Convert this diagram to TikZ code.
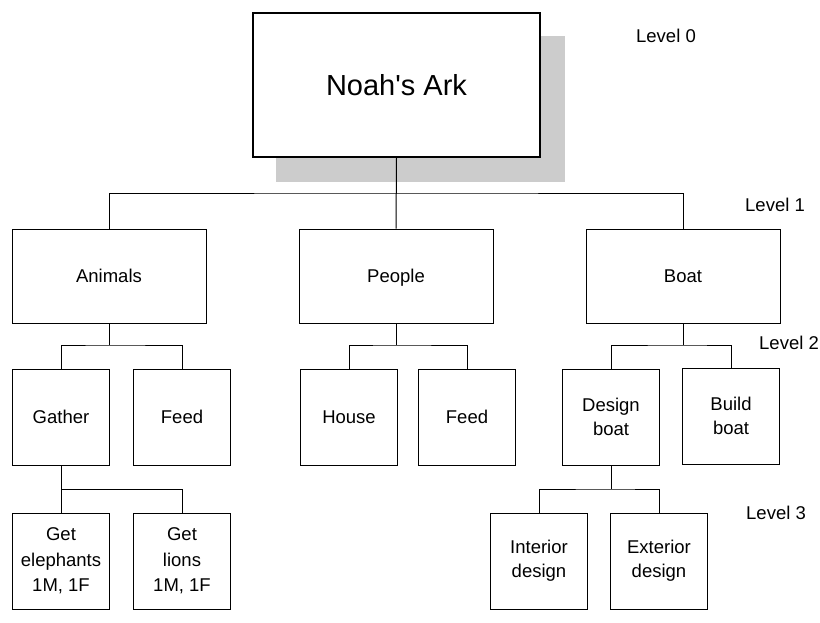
\documentclass[tikz,border=0pt]{standalone}
\usepackage{fontspec}
\setmainfont{Liberation Sans}[Ligatures=TeXOff]
\usetikzlibrary{positioning}

\begin{document}
\begin{tikzpicture}[x=1pt, y=-1pt,
            box/.style={draw, rectangle, line width=1pt, align=center, font=\fontsize{18.5}{24}\selectfont, inner sep=0pt},
            oneline/.style={text height=13.3pt, text depth=0pt},
            bigbox/.style={box, oneline, minimum width=194pt, minimum height=94pt},
            smallbox/.style={box, minimum width=97pt, minimum height=96pt},
            level/.style={font=\fontsize{18.5}{24}\selectfont, oneline},
            line/.style={line width=1pt}]

            \useasboundingbox (0,0) rectangle (820,622);

            % shadow behind the top box
            \fill[gray!40] (276,36) rectangle (565,182);
            \node[box, fill=white, line width=2pt, minimum width=287pt, minimum height=144pt,
                  text height=20.8pt, text depth=0pt,
                  font=\fontsize{29}{34}\selectfont] (ark) at (396.5,85) {Noah's Ark};

            \node[bigbox] (animals) at (109,276) {Animals};
            \node[bigbox] (people) at (396,276) {People};
            \node[bigbox] (boat) at (683,276) {Boat};

            \node[smallbox, oneline] (gather) at (61,417) {Gather};
            \node[smallbox, oneline] (feedanimals) at (182,417) {Feed};
            \node[smallbox, oneline] (house) at (349,417) {House};
            \node[smallbox, oneline] (feedpeople) at (467,417) {Feed};
            \node[smallbox] (design) at (611,417) {Design\\boat};
            \node[smallbox] (build) at (731,416) {Build\\boat};

            \node[smallbox, font=\fontsize{18.5}{25.5}\selectfont] (elephants) at (61,561) {Get\\elephants\\1M, 1F};
            \node[smallbox, font=\fontsize{18.5}{25.5}\selectfont] (lions) at (182,561) {Get\\lions\\1M, 1F};
            \node[smallbox] (interior) at (539,561) {Interior\\design};
            \node[smallbox] (exterior) at (659,561) {Exterior\\design};

            \node[level] (lvl0) at (666,36) {Level 0};
            \node[level] (lvl1) at (775,205) {Level 1};
            \node[level] (lvl2) at (789,343) {Level 2};
            \node[level] (lvl3) at (776,513) {Level 3};

            % bus points
            \coordinate (bus1) at (396,193);
            \coordinate (busanimals) at (109,345);
            \coordinate (buspeople) at (396,345);
            \coordinate (busboat) at (683,345);
            \coordinate (busgather) at (61,489);
            \coordinate (busdesign) at (611,489);

            \draw[line] (ark.south) -- (people.north);
            \draw[line] (animals.north) |- (bus1) -| (boat.north);

            \draw[line] (animals.south) -- (busanimals);
            \draw[line] (gather.north) |- (busanimals) -| (feedanimals.north);
            \draw[line] (people.south) -- (buspeople);
            \draw[line] (house.north) |- (buspeople) -| (feedpeople.north);
            \draw[line] (boat.south) -- (busboat);
            \draw[line] (design.north) |- (busboat) -| (build.north);

            \draw[line] (gather.south) -- (busgather);
            \draw[line] (elephants.north) |- (busgather) -| (lions.north);
            \draw[line] (design.south) -- (busdesign);
            \draw[line] (interior.north) |- (busdesign) -| (exterior.north);
        \end{tikzpicture}
\end{document}
